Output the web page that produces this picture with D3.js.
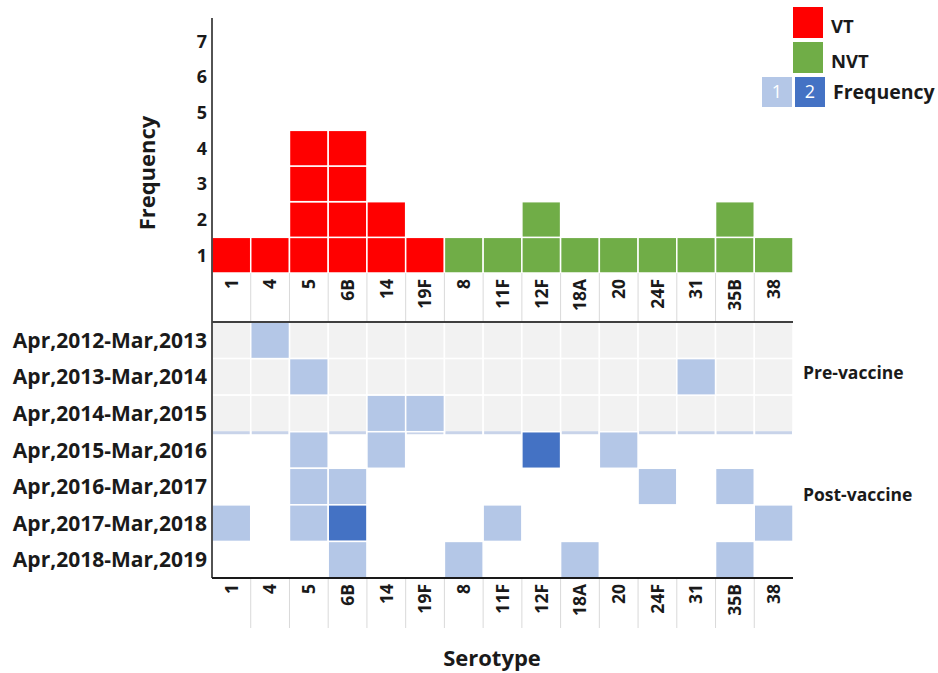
<!DOCTYPE html>
<html>
<head>
<meta charset="utf-8">
<script src="https://cdn.jsdelivr.net/npm/d3@7"></script>
<style>
  body { margin: 0; background: #fff; }
  text { font-family: "Open Sans", "Noto Sans", sans-serif; font-weight: bold; fill: #1a1a1a; }
</style>
</head>
<body>
<svg id="chart" width="938" height="673"></svg>
<script>
// serotypes along the x axis, VT first then NVT
const serotypes = ["1", "4", "5", "6B", "14", "19F", "8", "11F", "12F", "18A", "20", "24F", "31", "35B", "38"];
const groups = ["VT", "VT", "VT", "VT", "VT", "VT", "NVT", "NVT", "NVT", "NVT", "NVT", "NVT", "NVT", "NVT", "NVT"];
const totals = [1, 1, 4, 4, 2, 1, 1, 1, 2, 1, 1, 1, 1, 2, 1];

const periods = ["Apr,2012-Mar,2013", "Apr,2013-Mar,2014", "Apr,2014-Mar,2015",
  "Apr,2015-Mar,2016", "Apr,2016-Mar,2017", "Apr,2017-Mar,2018", "Apr,2018-Mar,2019"];
const prePeriods = periods.slice(0, 3);

// [period index, serotype, frequency]
const cells = [
  [0, "4", 1],
  [1, "5", 1], [1, "31", 1],
  [2, "14", 1], [2, "19F", 1],
  [3, "5", 1], [3, "14", 1], [3, "12F", 2], [3, "20", 1],
  [4, "5", 1], [4, "6B", 1], [4, "24F", 1], [4, "35B", 1],
  [5, "1", 1], [5, "5", 1], [5, "6B", 2], [5, "11F", 1], [5, "38", 1],
  [6, "6B", 1], [6, "8", 1], [6, "18A", 1], [6, "35B", 1]
];
const yTicks = [1, 2, 3, 4, 5, 6, 7];

const groupColor = { VT: "#ff0000", NVT: "#70ad47" };
const freqColor = { 1: "#b4c7e7", 2: "#4472c4" };

const svg = d3.select("#chart");

// 比例尺
const x = d3.scaleBand().domain(serotypes).range([212, 793]);
const y = d3.scaleLinear().domain([0.5, 7.65]).range([273, 18]);
const row = d3.scaleBand().domain(periods).range([322, 578]);

// 上方柱状图：每个计数一个方块
const blocks = [];
serotypes.forEach((s, i) => {
  for (let k = 1; k <= totals[i]; k++) blocks.push({ s, k, g: groups[i] });
});
svg.append("g").selectAll("rect")
  .data(blocks)
  .join("rect")
    .attr("x", d => x(d.s))
    .attr("y", d => y(d.k + 0.5))
    .attr("width", x.bandwidth())
    .attr("height", y(0.5) - y(1.5))
    .attr("fill", d => groupColor[d.g])
    .attr("stroke", "#fff")
    .attr("stroke-width", 1.5);

// y轴刻度
svg.append("g").selectAll("text")
  .data(yTicks)
  .join("text")
    .attr("x", 207)
    .attr("y", d => y(d))
    .attr("dy", "0.36em")
    .attr("text-anchor", "end")
    .style("font-size", "18px")
    .text(d => d);

svg.append("text")
  .attr("transform", "translate(155,173) rotate(-90)")
  .attr("text-anchor", "middle")
  .style("font-size", "22px")
  .text("Frequency");

// 热图：疫苗前的灰色背景
const grid = [];
prePeriods.forEach(p => serotypes.forEach(s => grid.push({ p, s })));
svg.append("g").selectAll("rect")
  .data(grid)
  .join("rect")
    .attr("x", d => x(d.s))
    .attr("y", d => row(d.p))
    .attr("width", x.bandwidth())
    .attr("height", row.bandwidth())
    .attr("fill", "#f2f2f2")
    .attr("stroke", "#fff")
    .attr("stroke-width", 1.5);

// 疫苗前/后分界处的浅蓝细条
svg.append("g").selectAll("rect")
  .data(serotypes)
  .join("rect")
    .attr("x", d => x(d) + 1)
    .attr("y", row(prePeriods[2]) + row.bandwidth() - 0.5)
    .attr("width", x.bandwidth() - 2)
    .attr("height", 3)
    .attr("fill", "#c8d3e9");

svg.append("g").selectAll("rect")
  .data(cells)
  .join("rect")
    .attr("x", d => x(d[1]))
    .attr("y", d => row(periods[d[0]]))
    .attr("width", x.bandwidth())
    .attr("height", row.bandwidth())
    .attr("fill", d => freqColor[d[2]])
    .attr("stroke", "#fff")
    .attr("stroke-width", 1.5);

// 行标签
svg.append("g").selectAll("text")
  .data(periods)
  .join("text")
    .attr("x", 207)
    .attr("y", d => row(d) + row.bandwidth() / 2)
    .attr("dy", "0.36em")
    .attr("text-anchor", "end")
    .style("font-size", "21px")
    .text(d => d);

svg.append("text").attr("x", 803).attr("y", 373).attr("dy", "0.36em")
  .style("font-size", "17.5px").text("Pre-vaccine");
svg.append("text").attr("x", 803).attr("y", 495).attr("dy", "0.36em")
  .style("font-size", "17.5px").text("Post-vaccine");

// x轴标签（上方和下方各一份）
function tickBand(top, bottom) {
  const g = svg.append("g");
  g.selectAll("line")
    .data(serotypes.slice(1))
    .join("line")
      .attr("x1", d => x(d)).attr("x2", d => x(d))
      .attr("y1", top).attr("y2", bottom)
      .attr("stroke", "#d9d9d9");
  g.selectAll("text")
    .data(serotypes)
    .join("text")
      .attr("transform", d => `translate(${x(d) + x.bandwidth() / 2},${top + 6}) rotate(-90)`)
      .attr("dy", "0.36em")
      .attr("text-anchor", "end")
      .style("font-size", "17.5px")
      .text(d => d);
}
tickBand(273, 322);
tickBand(578, 628);

// 轴线
svg.append("line").attr("x1", 212).attr("x2", 212).attr("y1", 18).attr("y2", 578)
  .attr("stroke", "#1a1a1a").attr("stroke-width", 1.5);
svg.append("line").attr("x1", 212).attr("x2", 793).attr("y1", 322).attr("y2", 322)
  .attr("stroke", "#404040").attr("stroke-width", 2);
svg.append("line").attr("x1", 212).attr("x2", 793).attr("y1", 578).attr("y2", 578)
  .attr("stroke", "#1a1a1a").attr("stroke-width", 2);

svg.append("text")
  .attr("x", 492).attr("y", 658)
  .attr("dy", "0.36em")
  .attr("text-anchor", "middle")
  .style("font-size", "22px")
  .text("Serotype");

// 图例
const legend = svg.append("g");
legend.append("rect").attr("x", 793).attr("y", 7).attr("width", 30).attr("height", 31).attr("fill", groupColor.VT);
legend.append("rect").attr("x", 793).attr("y", 42).attr("width", 30).attr("height", 31).attr("fill", groupColor.NVT);
legend.append("text").attr("x", 831).attr("y", 26).attr("dy", "0.36em").style("font-size", "18.5px").text("VT");
legend.append("text").attr("x", 831).attr("y", 61).attr("dy", "0.36em").style("font-size", "18.5px").text("NVT");
[1, 2].forEach((f, i) => {
  legend.append("rect").attr("x", 762 + i * 33).attr("y", 77).attr("width", 30).attr("height", 30).attr("fill", freqColor[f]);
  legend.append("text").attr("x", 777 + i * 33).attr("y", 92).attr("dy", "0.36em")
    .attr("text-anchor", "middle").style("font-size", "18px").style("font-weight", "normal")
    .style("fill", "#fff").text(f);
});
legend.append("text").attr("x", 833).attr("y", 92).attr("dy", "0.36em").style("font-size", "19.5px").text("Frequency");
</script>
</body>
</html>
